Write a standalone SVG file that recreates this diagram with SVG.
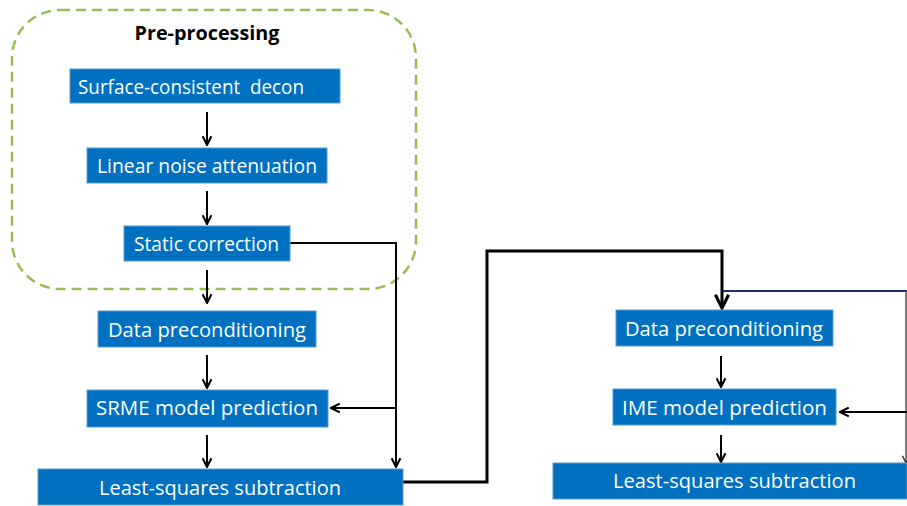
<svg xmlns="http://www.w3.org/2000/svg" width="907" height="506" viewBox="0 0 907 506">
<style>
.box{fill:#0070C0;stroke:#5b9bd5;stroke-width:1}
.lbl{font-family:"Open Sans","Liberation Sans",sans-serif;font-size:20.5px;fill:#ffffff}
.ttl{font-family:"Open Sans","Liberation Sans",sans-serif;font-size:20px;font-weight:bold;fill:#000000}
.ln{fill:none;stroke:#000000;stroke-width:2}
.thick{fill:none;stroke:#000000;stroke-width:3}
</style>
<defs>
<marker id="ah" viewBox="0 0 10 10" refX="9" refY="5" markerWidth="5.5" markerHeight="5.5" orient="auto" markerUnits="strokeWidth">
<path d="M1,1 L9,5 L1,9" fill="none" stroke="#000000" stroke-width="1.9"/>
</marker>
<marker id="ahg" viewBox="0 0 10 10" refX="9" refY="5" markerWidth="6" markerHeight="6" orient="auto" markerUnits="strokeWidth">
<path d="M1,1 L9,5 L1,9" fill="none" stroke="#333333" stroke-width="1.6"/>
</marker>
</defs>
<rect width="907" height="506" fill="#ffffff"/>
<g id="preprocessing">
<rect x="12" y="10" width="404" height="279" rx="48" ry="48" fill="none" stroke="#9BBB59" stroke-width="2.5" stroke-dasharray="10 6"/>
<text class="ttl" x="207" y="40" text-anchor="middle" textLength="145" lengthAdjust="spacingAndGlyphs">Pre-processing</text>
</g>
<g id="connectors">
<line class="ln" x1="207" y1="112" x2="207" y2="145" marker-end="url(#ah)"/>
<line class="ln" x1="207" y1="191" x2="207" y2="224" marker-end="url(#ah)"/>
<line class="ln" x1="207" y1="270" x2="207" y2="303" marker-end="url(#ah)"/>
<line class="ln" x1="207" y1="355" x2="207" y2="388" marker-end="url(#ah)"/>
<line class="ln" x1="207" y1="435" x2="207" y2="467" marker-end="url(#ah)"/>
<polyline class="ln" points="290,243 396,243 396,467" marker-end="url(#ah)"/>
<line class="ln" x1="396" y1="408" x2="331" y2="408" marker-end="url(#ah)"/>
<polyline class="thick" points="403,482 487,482 487,251 722,251 722,308" marker-end="url(#ah)"/>
<line x1="723" y1="291" x2="907" y2="291" stroke="#1f2d6b" stroke-width="2"/>
<polyline points="906,291 906,463" fill="none" stroke="#555555" stroke-width="1.5" marker-end="url(#ahg)"/>
<line class="ln" x1="907" y1="412" x2="840" y2="412" marker-end="url(#ah)"/>
<line class="ln" x1="721" y1="356" x2="721" y2="387" marker-end="url(#ah)"/>
<line class="ln" x1="721" y1="435" x2="721" y2="462" marker-end="url(#ah)"/>
</g>
<g id="surface-decon">
<rect class="box" x="70" y="69" width="270" height="34"/>
<text class="lbl" x="78" y="94" textLength="226" lengthAdjust="spacingAndGlyphs" xml:space="preserve">Surface-consistent  decon</text>
</g>
<g id="linear-noise">
<rect class="box" x="87" y="148" width="240" height="35"/>
<text class="lbl" x="97" y="173" textLength="220" lengthAdjust="spacingAndGlyphs">Linear noise attenuation</text>
</g>
<g id="static-correction">
<rect class="box" x="124" y="226" width="166" height="35"/>
<text class="lbl" x="134" y="251" textLength="145" lengthAdjust="spacingAndGlyphs">Static correction</text>
</g>
<g id="data-precond-1">
<rect class="box" x="98" y="311" width="218" height="36"/>
<text class="lbl" x="108" y="337" textLength="198" lengthAdjust="spacingAndGlyphs">Data preconditioning</text>
</g>
<g id="srme">
<rect class="box" x="87" y="390" width="241" height="37"/>
<text class="lbl" x="96" y="415" textLength="222" lengthAdjust="spacingAndGlyphs">SRME model prediction</text>
</g>
<g id="lsq-1">
<rect class="box" x="38" y="469" width="365" height="36"/>
<text class="lbl" x="99" y="495" textLength="242" lengthAdjust="spacingAndGlyphs">Least-squares subtraction</text>
</g>
<g id="data-precond-2">
<rect class="box" x="616" y="310" width="217" height="36"/>
<text class="lbl" x="625" y="336" textLength="198" lengthAdjust="spacingAndGlyphs">Data preconditioning</text>
</g>
<g id="ime">
<rect class="box" x="613" y="389" width="223" height="36"/>
<text class="lbl" x="622" y="415" textLength="205" lengthAdjust="spacingAndGlyphs">IME model prediction</text>
</g>
<g id="lsq-2">
<rect class="box" x="553" y="463" width="354" height="36"/>
<text class="lbl" x="613" y="488" textLength="243" lengthAdjust="spacingAndGlyphs">Least-squares subtraction</text>
</g>
</svg>
